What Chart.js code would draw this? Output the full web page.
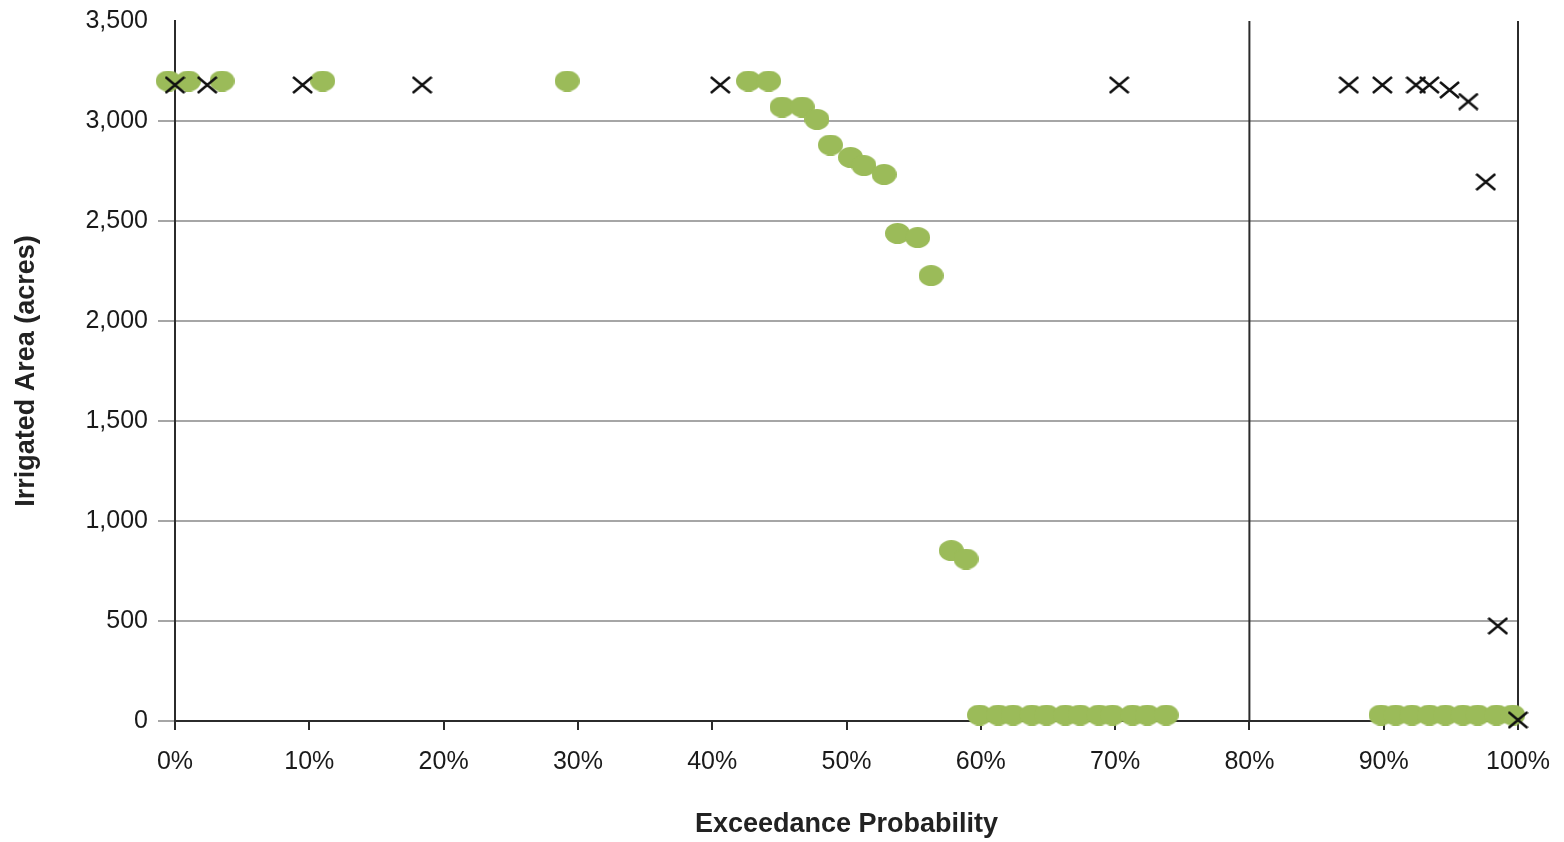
<!DOCTYPE html>
<html>
<head>
<meta charset="utf-8">
<title>Irrigated Area vs Exceedance Probability</title>
<script src="https://cdn.jsdelivr.net/npm/chart.js@4.4.1/dist/chart.umd.min.js"></script>
<style>
  html, body { margin: 0; padding: 0; background: #fff; }
  #wrap { width: 1564px; height: 842px; }
</style>
</head>
<body>
<div id="wrap"><canvas id="myChart" width="1564" height="842"></canvas></div>
<script>
// exceedance probability (%) and irrigated area (acres)
const greenX = [-0.5, 1.0, 3.5, 11.0, 29.2, 42.7, 44.2, 45.2, 46.7, 47.8, 48.8, 50.3, 51.3, 52.8,
    53.8, 55.3, 56.3, 57.8, 58.9,
    59.9, 61.3, 62.4, 63.8, 64.9, 66.3, 67.4, 68.8, 69.8, 71.3, 72.4, 73.8,
    89.8, 90.9, 92.1, 93.4, 94.6, 95.9, 97.0, 98.4, 99.6];
const greenY = [3200, 3200, 3200, 3200, 3200, 3200, 3200, 3070, 3070, 3008, 2880, 2818, 2777, 2733,
    2438, 2417, 2227, 852, 810,
    30, 30, 30, 30, 30, 30, 30, 30, 30, 30, 30, 30,
    30, 30, 30, 30, 30, 30, 30, 30, 30];

const crossX = [0, 2.4, 9.5, 18.4, 40.6, 70.3, 87.4, 89.9, 92.4, 93.4, 94.9, 96.3, 97.6, 98.5, 100];
const crossY = [3180, 3180, 3180, 3180, 3180, 3180, 3180, 3180, 3180, 3180, 3155, 3097, 2695, 475, 5];

// vertical reference lines
const refLineX = [80, 100];

const xTicks = [0, 10, 20, 30, 40, 50, 60, 70, 80, 90, 100];
const yTicks = [0, 500, 1000, 1500, 2000, 2500, 3000, 3500];

document.addEventListener("DOMContentLoaded", function(){

    function toPoints(xs, ys){
        return xs.map(function(x, i){ return {x: x, y: ys[i]}; });
    }

    // marker images: green ellipse and black x
    function ellipseImage(w, h, color){
        const c = document.createElement('canvas');
        c.width = w; c.height = h;
        const g = c.getContext('2d');
        g.fillStyle = color;
        g.beginPath();
        g.ellipse(w / 2, h / 2, w / 2, h / 2, 0, 0, Math.PI * 2);
        g.fill();
        return c;
    }
    function crossImage(w, h, color){
        const c = document.createElement('canvas');
        c.width = w; c.height = h;
        const g = c.getContext('2d');
        g.strokeStyle = color;
        g.lineWidth = 2.5;
        g.beginPath();
        g.moveTo(1, 1); g.lineTo(w - 1, h - 1);
        g.moveTo(w - 1, 1); g.lineTo(1, h - 1);
        g.stroke();
        return c;
    }

    const refSets = refLineX.map(function(x){
        return {
            type: 'line',
            data: [{x: x, y: yTicks[0]}, {x: x, y: yTicks[yTicks.length - 1]}],
            borderColor: '#2b2b2b',
            borderWidth: 2,
            pointRadius: 0,
            showLine: true,
            clip: false
        };
    });

    const ctx = document.getElementById('myChart');
    new Chart(ctx, {
        type: 'scatter',
        data: {
            datasets: [{
                label: 'x',
                data: toPoints(crossX, crossY),
                pointStyle: crossImage(21, 18, '#111'),
                pointRadius: 11,
                clip: false
            }, {
                label: 'green',
                data: toPoints(greenX, greenY),
                pointStyle: ellipseImage(25, 21, '#9bbb59'),
                pointRadius: 12,
                clip: false
            }].concat(refSets)
        },
        options: {
            responsive: false,
            animation: false,
            layout: { padding: { top: 21, right: 46, bottom: 0, left: 0 } },
            plugins: {
                legend: { display: false },
                tooltip: { enabled: false }
            },
            scales: {
                x: {
                    type: 'linear',
                    min: 0,
                    max: 100,
                    afterBuildTicks: function(scale){
                        scale.ticks = xTicks.map(function(v){ return {value: v}; });
                    },
                    afterFit: function(scale){
                        // fixed box so the plot area lands where the original is
                        scale.height = 121;
                        scale.paddingLeft = 0;
                        scale.paddingRight = 0;
                    },
                    ticks: {
                        callback: function(v){ return v + '%'; },
                        font: { family: 'Liberation Sans, Arial, sans-serif', size: 25 },
                        color: '#1a1a1a',
                        padding: 17,
                        maxRotation: 0
                    },
                    grid: {
                        drawOnChartArea: false,
                        drawTicks: true,
                        tickLength: 9,
                        color: '#2b2b2b',
                        lineWidth: 2
                    },
                    border: { color: '#2b2b2b', width: 2 },
                    title: {
                        display: true,
                        text: 'Exceedance Probability',
                        font: { family: 'Liberation Sans, Arial, sans-serif', size: 27, weight: 'bold' },
                        color: '#222',
                        padding: { top: 0, bottom: 1 }
                    }
                },
                y: {
                    type: 'linear',
                    min: 0,
                    max: 3500,
                    afterBuildTicks: function(scale){
                        scale.ticks = yTicks.map(function(v){ return {value: v}; });
                    },
                    afterFit: function(scale){
                        scale.width = 175;
                        scale.paddingTop = 0;
                        scale.paddingBottom = 0;
                    },
                    ticks: {
                        callback: function(v){ return v.toLocaleString('en-US'); },
                        font: { family: 'Liberation Sans, Arial, sans-serif', size: 25 },
                        color: '#1a1a1a',
                        padding: 10
                    },
                    grid: {
                        color: function(c){ return c.tick && c.tick.value === 3500 ? 'rgba(0,0,0,0)' : '#a6a6a6'; },
                        lineWidth: 2,
                        tickLength: 17
                    },
                    border: { color: '#2b2b2b', width: 2 },
                    title: {
                        display: true,
                        text: 'Irrigated Area (acres)',
                        font: { family: 'Liberation Sans, Arial, sans-serif', size: 27, weight: 'bold' },
                        color: '#222',
                        padding: { top: 10, bottom: 0 }
                    }
                }
            }
        }
    });
});
</script>
</body>
</html>
